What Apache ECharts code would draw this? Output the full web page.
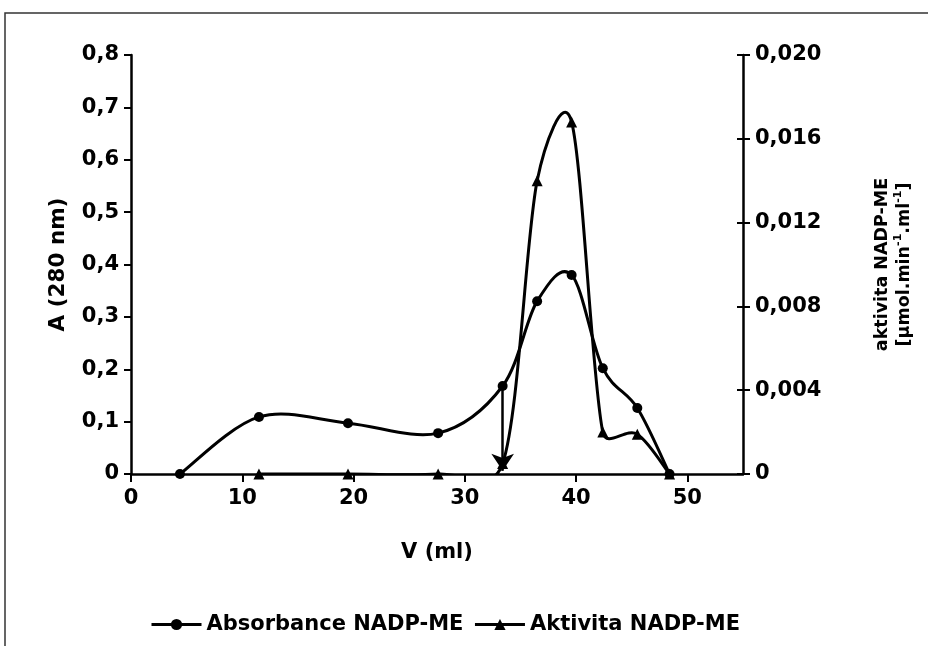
<!DOCTYPE html>
<html>
<head>
<meta charset="utf-8">
<script src="https://cdn.jsdelivr.net/npm/echarts@6/dist/echarts.min.js"></script>
<style>
html,body{margin:0;padding:0;background:#fff;}
#chart{width:928px;height:646px;}
</style>
</head>
<body>
<div id="chart"></div>
<script>
// Data
var volume = [4.4, 11.5, 19.5, 27.6, 33.4, 36.5, 39.6, 42.4, 45.5, 48.4];
var absorbance = [0, 0.109, 0.097, 0.078, 0.168, 0.330, 0.380, 0.202, 0.126, 0];
var activity = [null, 0, 0, 0, 0.0005, 0.0140, 0.0168, 0.0020, 0.0019, 0];
var arrowFrom = [33.4, 0.168];
var arrowTo = [33.4, 0.006];
var seriesNames = ['Absorbance NADP-ME', 'Aktivita NADP-ME'];
var xTitle = 'V (ml)';
var yLeftTitle = 'A (280 nm)';

function pairs(xs, ys) {
  var out = [];
  for (var i = 0; i < xs.length; i++) {
    if (ys[i] !== null) out.push([xs[i], ys[i]]);
  }
  return out;
}
var absPts = pairs(volume, absorbance);
var actPts = pairs(volume, activity);

// Spreadsheet-style smoothed curve drawn through the data points via the axes
function smoothCurve(pts, yIdx) {
  return {
    type: 'custom', xAxisIndex: 0, yAxisIndex: yIdx,
    data: pts, encode: {x: 0, y: 1},
    clip: true, silent: true, z: 2,
    renderItem: function (params, api) {
      var i = params.dataIndex;
      if (i >= pts.length - 1) return null;
      function P(k) { k = Math.max(0, Math.min(pts.length - 1, k)); return api.coord(pts[k]); }
      var p0 = P(i - 1), p1 = P(i), p2 = P(i + 1), p3 = P(i + 2);
      var half = Math.hypot(p2[0] - p1[0], p2[1] - p1[1]) / 2;
      function tan(a, b) {
        var tx = (b[0] - a[0]) / 6, ty = (b[1] - a[1]) / 6;
        var l = Math.hypot(tx, ty);
        if (l > half && l > 0) { tx *= half / l; ty *= half / l; }
        return [tx, ty];
      }
      var t1 = tan(p0, p2), t2 = tan(p1, p3);
      return {
        type: 'bezierCurve',
        shape: {
          x1: p1[0], y1: p1[1], x2: p2[0], y2: p2[1],
          cpx1: p1[0] + t1[0], cpy1: p1[1] + t1[1],
          cpx2: p2[0] - t2[0], cpy2: p2[1] - t2[1]
        },
        style: {stroke: '#000', lineWidth: 3, fill: null}
      };
    }
  };
}

var FONT = 'DejaVu Sans';
var txt = {color: '#000', fontFamily: FONT, fontWeight: 'bold', fontSize: 21};
var axisLineStyle = {color: '#000', width: 2.5};

var chart = echarts.init(document.getElementById('chart'), null, {renderer: 'canvas'});
chart.setOption({
  animation: false,
  backgroundColor: '#fff',
  graphic: [{
    type: 'rect',
    shape: {x: 5, y: 13, width: 1000, height: 700},
    style: {fill: 'none', stroke: '#333', lineWidth: 1.5},
    silent: true, z: -1
  }],
  grid: {left: 131, right: 185, top: 55, bottom: 172, containLabel: false},
  legend: {
    left: 145, top: 609,
    itemWidth: 50, itemHeight: 14, itemGap: 10,
    textStyle: txt,
    lineStyle: {color: '#000', width: 3, opacity: 1},
    data: seriesNames
  },
  xAxis: {
    type: 'value', min: 0, max: 55, interval: 10,
    name: xTitle, nameLocation: 'middle', nameGap: 68,
    nameTextStyle: txt,
    axisLine: {lineStyle: axisLineStyle},
    axisTick: {show: true, inside: false, length: 8, lineStyle: {color: '#000', width: 2}},
    axisLabel: Object.assign({margin: 14, showMaxLabel: false,
      formatter: function (v) { return v > 50 ? '' : String(v); }}, txt),
    splitLine: {show: false}
  },
  yAxis: [{
    type: 'value', min: 0, max: 0.8, interval: 0.1, position: 'left',
    name: yLeftTitle, nameLocation: 'middle', nameGap: 62, nameRotate: 90,
    nameTextStyle: Object.assign({}, txt, {fontSize: 21.5}),
    axisLine: {show: true, lineStyle: axisLineStyle},
    axisTick: {show: true, inside: false, length: 7, lineStyle: {color: '#000', width: 2}},
    axisLabel: Object.assign({margin: 12,
      formatter: function (v) { return v === 0 ? '0' : v.toFixed(1).replace('.', ','); }}, txt),
    splitLine: {show: false}
  }, {
    type: 'value', min: 0, max: 0.02, interval: 0.004, position: 'right',
    name: '{t|aktivita NADP-ME}\n{t|[µmol.min}{s|-1}{t|.ml}{s|-1}{t|]}',
    nameLocation: 'middle', nameGap: 128, nameRotate: 90,
    nameTextStyle: {
      color: '#000', fontFamily: FONT, fontWeight: 'bold', fontSize: 17.5, lineHeight: 22,
      rich: {
        t: {color: '#000', fontFamily: FONT, fontWeight: 'bold', fontSize: 17.5, lineHeight: 22},
        s: {color: '#000', fontFamily: FONT, fontWeight: 'bold', fontSize: 11, lineHeight: 22, verticalAlign: 'top', padding: [0, 0, 8, 0]}
      }
    },
    axisLine: {show: true, lineStyle: axisLineStyle},
    axisTick: {show: true, inside: false, length: 7, lineStyle: {color: '#000', width: 2}},
    axisLabel: Object.assign({margin: 12,
      formatter: function (v) { return v === 0 ? '0' : v.toFixed(3).replace('.', ','); }}, txt),
    splitLine: {show: false}
  }, {
    type: 'value', min: 0, max: 0.02, interval: 0.004, position: 'right',
    axisLine: {show: false},
    axisTick: {show: true, inside: true, length: 6, lineStyle: {color: '#000', width: 2}},
    axisLabel: {show: false},
    splitLine: {show: false}
  }],
  series: [{
    name: seriesNames[0], type: 'line', yAxisIndex: 0,
    data: absPts,
    symbol: 'circle', symbolSize: 10,
    itemStyle: {color: '#000'},
    lineStyle: {color: '#000', width: 3, opacity: 0},
    markLine: {
      silent: true, symbol: ['none', 'arrow'], symbolSize: 17,
      label: {show: false},
      lineStyle: {color: '#000', width: 2.5, type: 'solid', opacity: 1},
      data: [[{coord: arrowFrom}, {coord: arrowTo}]]
    },
    z: 3
  }, {
    name: seriesNames[1], type: 'line', yAxisIndex: 1,
    data: actPts,
    symbol: 'triangle', symbolSize: 11,
    itemStyle: {color: '#000'},
    lineStyle: {color: '#000', width: 3, opacity: 0},
    z: 3
  },
  smoothCurve(absPts, 0),
  smoothCurve(actPts, 1)]
});
</script>
</body>
</html>
